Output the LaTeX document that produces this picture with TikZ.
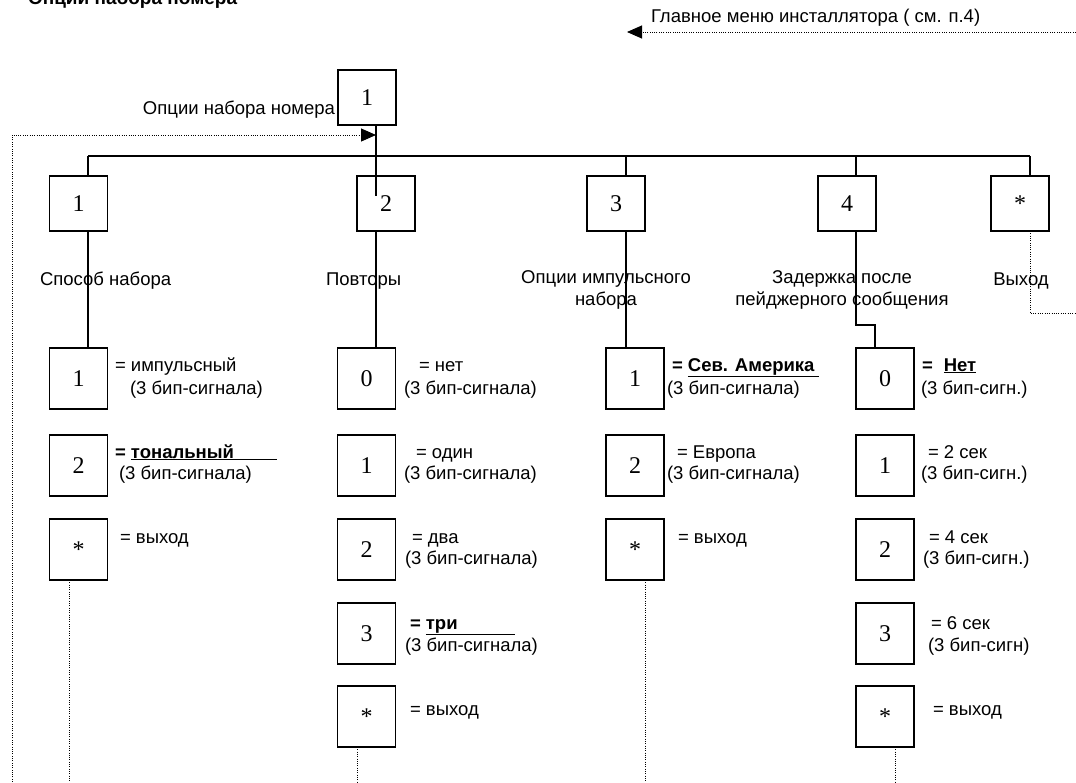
\documentclass[tikz,border=0pt]{standalone}
\usepackage{fontspec}
\setmainfont{Liberation Sans}
\newfontfamily\digitfont{Liberation Serif}
\usetikzlibrary{arrows.meta}
\begin{document}
\begin{tikzpicture}[x=1pt,y=-1pt,
  every node/.style={inner sep=0pt, outer sep=0pt},
  lbl/.style={font=\fontsize{18.5pt}{22pt}\selectfont},
  ttl/.style={font=\fontsize{19pt}{22pt}\selectfont\bfseries},
  numbox/.style={draw, line width=1.5pt, minimum width=58pt, font=\digitfont\fontsize{24pt}{26pt}\selectfont},
  hdr/.style={numbox, minimum height=55pt},
  opt/.style={numbox, minimum height=61pt},
  conn/.style={line width=1.3pt},
  dotl/.style={line width=1pt, dash pattern=on 1pt off 1.3pt},
  tip/.style={-{Triangle[length=15pt,width=13pt]}}
]
\useasboundingbox (0,0) rectangle (1076,782);

% title and main menu reference
\node[ttl, anchor=base west] (title) at (28,4) {Опции набора номера};
\node[lbl, anchor=base west] (menu) at (651,22) {Главное меню инсталлятора ( см. п.4)};
\coordinate (mR) at (1076,32);
\coordinate (mL) at (627,32);
\draw[dotl,tip] (mR) -- (mL);

% top box
\node[hdr] (T) at (367,97.5) {1};
\node[lbl, anchor=base east] (Tl) at (335,114) {Опции набора номера};

% headers
\node[hdr] (H1) at (78.5,203.5) {1};
\node[hdr] (H2) at (386,203.5) {2};
\node[hdr] (H3) at (616,203.5) {3};
\node[hdr] (H4) at (847,203.5) {4};
\node[hdr] (H5) at (1020,203.5) {*};

\node[lbl, anchor=base west] (H1l) at (40,285) {Способ набора};
\node[lbl, anchor=base west] (H2l) at (326,285) {Повторы};
\node[lbl, align=center] (H3l) at (606,290) {Опции импульсного\\набора};
\node[lbl, align=center] (H4l) at (842,290) {Задержка после\\пейджерного сообщения};
\node[lbl, anchor=base] (H5l) at (1021,285) {Выход};

% bar and connectors
\coordinate (b1) at (88,156);
\coordinate (b3) at (626,156);
\coordinate (b4) at (856,156);
\coordinate (b5) at (1030,156);
\coordinate (in2) at (376,196);
\draw[conn] (b1) -- (b5);
\draw[conn] (b1) -- (b1 |- H1.north);
\draw[conn] (b3) -- (b3 |- H3.north);
\draw[conn] (b4) -- (b4 |- H4.north);
\draw[conn] (b5) -- (b5 |- H5.north);
\draw[conn] (T.south -| in2) -- (in2);

% return arrow
\coordinate (rb) at (12,782);
\coordinate (rt) at (376,135);
\draw[dotl,tip] (rb) |- (rt);

% column 1
\node[opt] (C1a) at (78.5,378.5) {1};
\node[opt] (C1b) at (78.5,465.5) {2};
\node[opt] (C1c) at (78.5,549.5) {*};
\node[lbl, anchor=base west] (C1a1) at (115,371) {= импульсный};
\node[lbl, anchor=base west] (C1a2) at (130,394) {(3 бип-сигнала)};
\node[lbl, anchor=base west] (C1b1) at (115,458) {\bfseries = \underline{\makebox[146pt][l]{тональный}}};
\node[lbl, anchor=base west] (C1b2) at (119,479) {(3 бип-сигнала)};
\node[lbl, anchor=base west] (C1c1) at (120,543) {= выход};
\draw[conn] (H1.south -| b1) -- (C1a.north -| b1);
\coordinate (d1) at (69,782);
\draw[dotl] (C1c.south -| d1) -- (d1);

% column 2
\node[opt] (C2a) at (366.5,378.5) {0};
\node[opt] (C2b) at (366.5,465.5) {1};
\node[opt] (C2c) at (366.5,549.5) {2};
\node[opt] (C2d) at (366.5,633.5) {3};
\node[opt] (C2e) at (366.5,716.5) {*};
\node[lbl, anchor=base west] (C2a1) at (419,371) {= нет};
\node[lbl, anchor=base west] (C2a2) at (404,394) {(3 бип-сигнала)};
\node[lbl, anchor=base west] (C2b1) at (416,458) {= один};
\node[lbl, anchor=base west] (C2b2) at (404,479) {(3 бип-сигнала)};
\node[lbl, anchor=base west] (C2c1) at (412,543) {= два};
\node[lbl, anchor=base west] (C2c2) at (405,564) {(3 бип-сигнала)};
\node[lbl, anchor=base west] (C2d1) at (410,629) {\bfseries = \underline{\makebox[89pt][l]{три}}};
\node[lbl, anchor=base west] (C2d2) at (405,651) {(3 бип-сигнала)};
\node[lbl, anchor=base west] (C2e1) at (410,715) {= выход};
\draw[conn] (H2.south -| in2) -- (C2a.north -| in2);
\coordinate (d2) at (357,782);
\draw[dotl] (C2e.south -| d2) -- (d2);

% column 3
\node[opt] (C3a) at (635,378.5) {1};
\node[opt] (C3b) at (635,465.5) {2};
\node[opt] (C3c) at (635,549.5) {*};
\node[lbl, anchor=base west] (C3a1) at (672,371) {\bfseries = \underline{\makebox[131pt][l]{Сев. Америка}}};
\node[lbl, anchor=base west] (C3a2) at (667,394) {(3 бип-сигнала)};
\node[lbl, anchor=base west] (C3b1) at (677,458) {= Европа};
\node[lbl, anchor=base west] (C3b2) at (667,479) {(3 бип-сигнала)};
\node[lbl, anchor=base west] (C3c1) at (678,543) {= выход};
\draw[conn] (H3.south -| b3) -- (C3a.north -| b3);
\coordinate (d3) at (645,782);
\draw[dotl] (C3c.south -| d3) -- (d3);

% column 4
\node[opt] (C4a) at (885,378.5) {0};
\node[opt] (C4b) at (885,465.5) {1};
\node[opt] (C4c) at (885,549.5) {2};
\node[opt] (C4d) at (885,633.5) {3};
\node[opt] (C4e) at (885,716.5) {*};
\node[lbl, anchor=base west] (C4a1) at (922,371) {\bfseries =\hspace{11pt}\underline{Нет}};
\node[lbl, anchor=base west] (C4a2) at (921,394) {(3 бип-сигн.)};
\node[lbl, anchor=base west] (C4b1) at (928,458) {= 2 сек};
\node[lbl, anchor=base west] (C4b2) at (921,479) {(3 бип-сигн.)};
\node[lbl, anchor=base west] (C4c1) at (929,543) {= 4 сек};
\node[lbl, anchor=base west] (C4c2) at (923,564) {(3 бип-сигн.)};
\node[lbl, anchor=base west] (C4d1) at (931,629) {= 6 сек};
\node[lbl, anchor=base west] (C4d2) at (928,651) {(3 бип-сигн)};
\node[lbl, anchor=base west] (C4e1) at (933,715) {= выход};
\coordinate (j4) at (875,325);
\draw[conn] (H4.south -| b4) |- (j4) -- (j4 |- C4a.north);
\coordinate (d4) at (895,782);
\draw[dotl] (C4e.south -| d4) -- (d4);

% column 5 (exit)
\coordinate (e5) at (1076,313);
\draw[dotl] (H5.south -| b5) |- (e5);
\end{tikzpicture}
\end{document}
